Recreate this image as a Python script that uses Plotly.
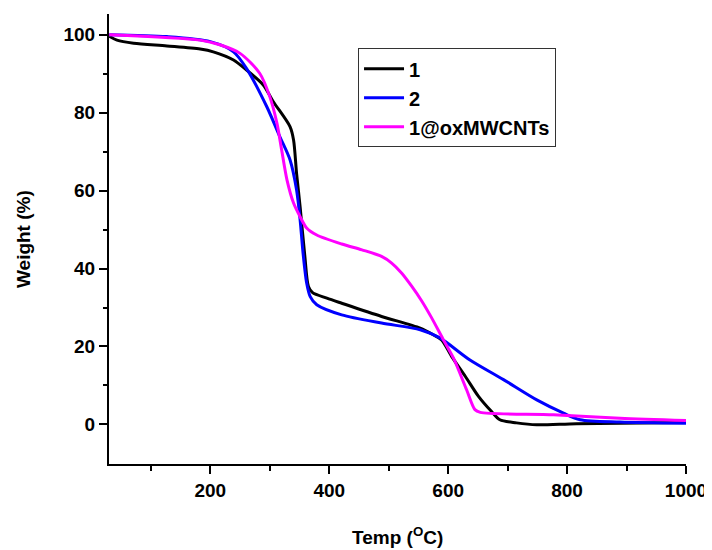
import plotly.graph_objects as go

# Sample 1
t1 = [30, 43, 71, 127, 183, 205, 239, 261, 289, 306, 334, 340, 345, 351, 359, 365, 372, 396, 421, 488, 553, 575, 589, 606, 629, 651, 673, 687, 715, 749, 816, 1000]
w1 = [99.6, 98.6, 97.8, 97.1, 96.3, 95.6, 93.5, 90.9, 87.1, 82.8, 76.4, 73.0, 64.5, 55.9, 43.1, 35.4, 33.8, 32.4, 31.1, 27.7, 24.7, 23.0, 21.7, 17.4, 12.3, 7.2, 3.3, 1.2, 0.4, -0.1, 0.2, 0.5]

# Sample 2
t2 = [30, 127, 200, 239, 261, 295, 317, 334, 345, 351, 356, 362, 368, 379, 421, 488, 553, 586, 636, 693, 749, 794, 822, 889, 1000]
w2 = [100.0, 99.5, 98.2, 95.6, 91.3, 81.5, 73.8, 67.9, 60.2, 52.5, 43.9, 36.3, 32.8, 30.7, 28.1, 26.0, 24.3, 22.2, 16.6, 11.5, 6.3, 2.9, 1.2, 0.6, 0.3]

# Sample 1@oxMWCNTs
t3 = [30, 183, 216, 250, 283, 300, 312, 320, 329, 340, 351, 362, 379, 421, 455, 488, 505, 522, 538, 555, 572, 591, 609, 631, 645, 654, 777, 889, 1000]
w3 = [100.0, 98.6, 97.4, 95.2, 90.1, 84.1, 77.3, 70.4, 62.7, 56.8, 53.3, 50.4, 48.6, 46.3, 44.8, 43.1, 41.4, 38.8, 35.6, 31.8, 27.4, 22.0, 17.0, 8.9, 3.8, 3.1, 2.5, 1.6, 1.0]

names = ["1", "2", "1@oxMWCNTs"]
colors = ["#000000", "#0000ff", "#ff00ff"]

x_ticks = [200, 400, 600, 800, 1000]
y_ticks = [0, 20, 40, 60, 80, 100]

FONT = "Liberation Sans, Arial, sans-serif"

fig = go.Figure()
for t, w, n, c in zip([t1, t2, t3], [w1, w2, w3], names, colors):
    fig.add_trace(go.Scatter(x=t, y=w, mode="lines", name=n,
                             line=dict(color=c, width=3, shape="spline", smoothing=0.8)))

fig.update_layout(
    width=704, height=542,
    margin=dict(l=101, r=26, t=6, b=86),
    paper_bgcolor="white", plot_bgcolor="white",
    font=dict(family=FONT, size=19, color="black", weight="bold"),
    showlegend=True,
    legend=dict(x=0.4316, y=0.924, xanchor="left", yanchor="top",
                bordercolor="#333333", borderwidth=1, bgcolor="white",
                font=dict(size=20, family=FONT, weight="bold"),
                tracegroupgap=0, itemwidth=40),
    annotations=[
        dict(text="Temp (<sup>O</sup>C)", xref="paper", yref="paper", x=0.5, y=-0.16,
             xanchor="center", yanchor="middle", showarrow=False,
             font=dict(size=19, family=FONT, weight="bold")),
        dict(text="Weight (%)", xref="paper", yref="paper", x=-0.149, y=0.5,
             xanchor="center", yanchor="middle", showarrow=False, textangle=-90,
             font=dict(size=19, family=FONT, weight="bold")),
    ],
)
fig.update_xaxes(
    range=[29.6, 1000], tickvals=x_ticks, ticktext=[str(v) for v in x_ticks],
    showline=True, linecolor="black", linewidth=2, showgrid=False, zeroline=False,
    ticks="outside", ticklen=8, tickwidth=2, tickcolor="black", automargin=False,
    minor=dict(tickvals=[100, 300, 500, 700, 900], ticks="outside", ticklen=5, tickwidth=2, tickcolor="black"),
)
fig.update_yaxes(
    range=[-10.15, 105.3], tickvals=y_ticks, ticktext=[str(v) for v in y_ticks],
    showline=True, linecolor="black", linewidth=2, showgrid=False, zeroline=False,
    ticks="outside", ticklen=8, tickwidth=2, tickcolor="black", automargin=False,
    minor=dict(tickvals=[10, 30, 50, 70, 90], ticks="outside", ticklen=4, tickwidth=2, tickcolor="black"),
)

fig.write_html("out.html")
